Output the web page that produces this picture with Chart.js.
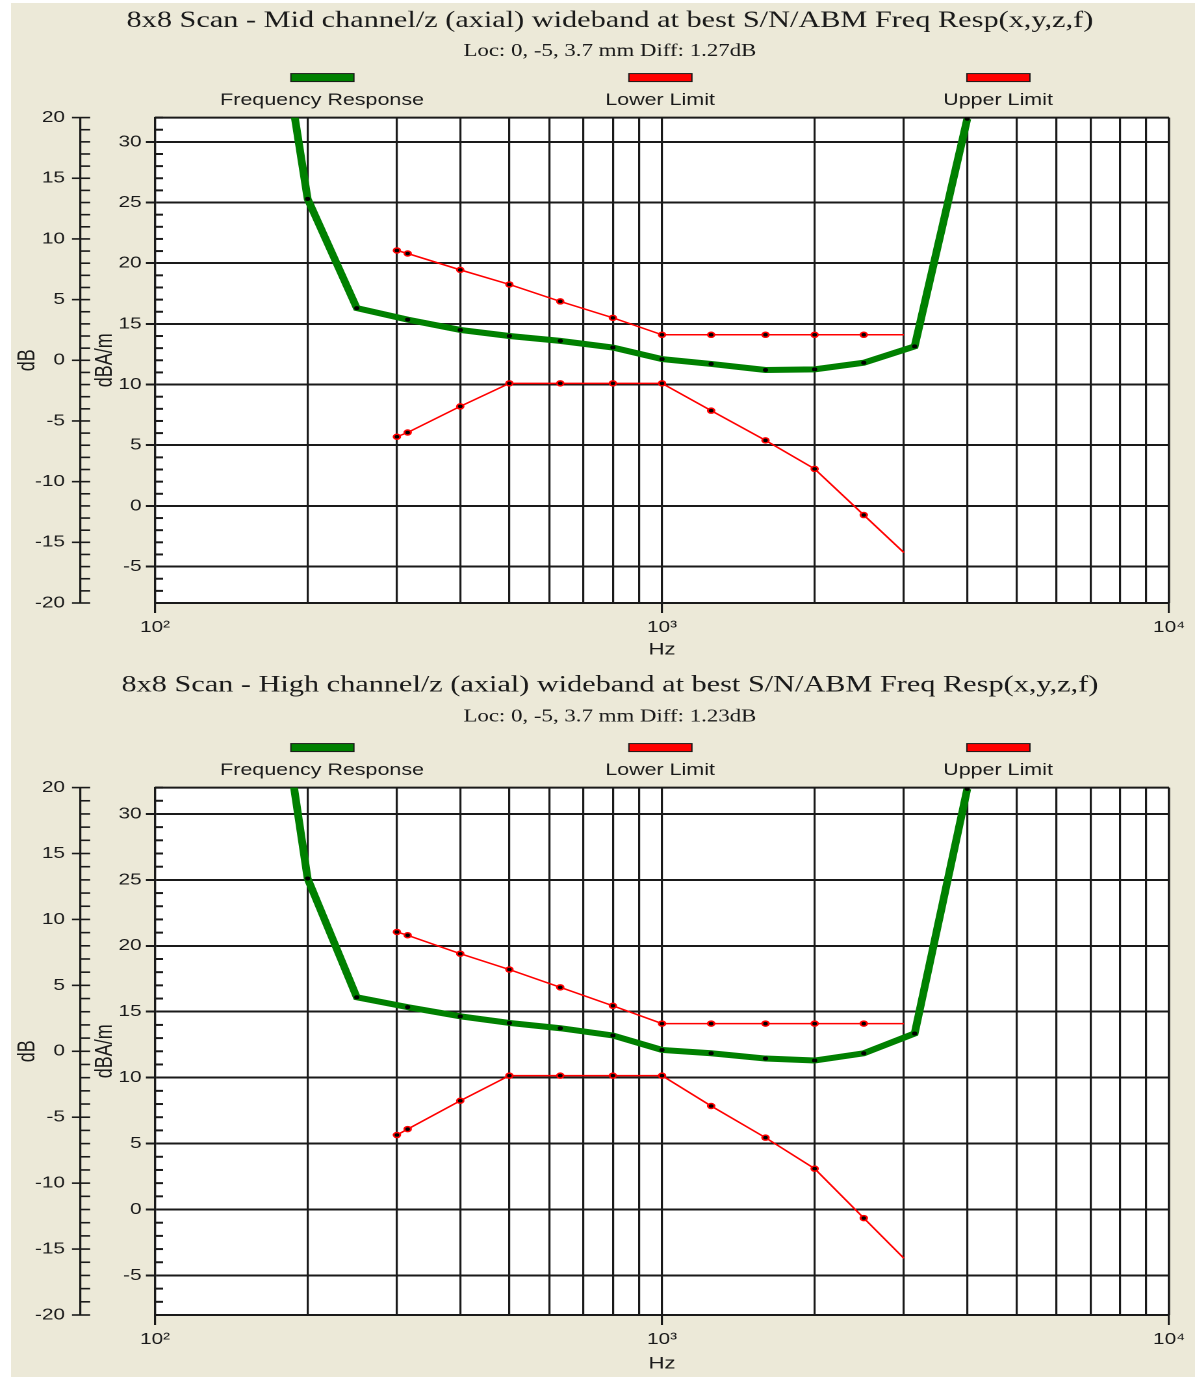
<!DOCTYPE html>
<html lang="en">
<head>
    <meta charset="UTF-8">
    <title>8x8 Scan - ABM Freq Resp</title>
    <script src="https://cdn.jsdelivr.net/npm/chart.js"></script>
    <style>
        body {
            margin: 0;
            padding: 0;
            background-color: #fff;
        }
        #panel {
            position: absolute;
            left: 11px;
            top: 3px;
            width: 1184px;
            height: 1374px;
            background-color: #ece9d8;
        }
        canvas {
            position: absolute;
            left: 0;
            transform-origin: 0 0;
        }
    </style>
</head>
<body>
<div id="panel">
    <canvas id="midChart" width="911" height="665"></canvas>
    <canvas id="highChart" width="911" height="709"></canvas>
</div>

<script>
    // frequencies (Hz)
    const respFreqs = [160, 200, 250, 315, 400, 500, 630, 800, 1000, 1250, 1600, 2000, 2500, 3150, 4000];
    const limitFreqs = [300, 315, 400, 500, 630, 800, 1000, 1250, 1600, 2000, 2500, 3000];

    // Mid channel (dBA/m)
    const midResponse = [51, 25.3, 16.3, 15.35, 14.5, 14.0, 13.6, 13.05, 12.1, 11.7, 11.2, 11.25, 11.8, 13.15, 31.9];
    const midLower = [5.7, 6.05, 8.2, 10.1, 10.1, 10.1, 10.1, 7.85, 5.4, 3.05, -0.75, -3.85];
    const midUpper = [21.05, 20.8, 19.45, 18.25, 16.85, 15.5, 14.1, 14.1, 14.1, 14.1, 14.1, 14.1];

    // High channel (dBA/m)
    const highResponse = [50, 25.1, 16.1, 15.35, 14.65, 14.15, 13.75, 13.2, 12.1, 11.85, 11.45, 11.3, 11.85, 13.35, 31.9];
    const highLower = [5.65, 6.1, 8.25, 10.15, 10.15, 10.15, 10.15, 7.85, 5.45, 3.1, -0.65, -3.7];
    const highUpper = [21.05, 20.8, 19.4, 18.2, 16.85, 15.45, 14.1, 14.1, 14.1, 14.1, 14.1, 14.1];

    // ticks
    const xTicks = [100, 200, 300, 400, 500, 600, 700, 800, 900, 1000,
                    2000, 3000, 4000, 5000, 6000, 7000, 8000, 9000, 10000];
    const xTickLabels = {100: '10²', 1000: '10³', 10000: '10⁴'};
    const dbaTicks = [-5, 0, 5, 10, 15, 20, 25, 30];
    const dbTicks = [-20, -15, -10, -5, 0, 5, 10, 15, 20];

    const SANS = "'Liberation Sans', Arial, sans-serif";
    const SERIF = "'Liberation Serif', 'Times New Roman', serif";
    const INK = '#1a1a1a';
    const STRETCH = 1184 / 911; // the original picture is stretched sideways

    // white plot area, inside minor ticks, outer dB axis ticks, frame
    const plotFrame = {
        id: 'plotFrame',
        beforeDraw(chart) {
            const {ctx, chartArea: a} = chart;
            ctx.save();
            ctx.fillStyle = '#fff';
            ctx.fillRect(a.left, a.top, a.width, a.height);
            ctx.restore();
        },
        beforeDatasetsDraw(chart) {
            const {ctx, chartArea: a, scales} = chart;
            ctx.save();
            ctx.strokeStyle = INK;
            const seg = (x1, y1, x2, y2) => {
                ctx.beginPath();
                ctx.moveTo(x1, y1);
                ctx.lineTo(x2, y2);
                ctx.stroke();
            };
            ctx.lineWidth = 2;
            const y = scales.y;
            for (let v = Math.ceil(y.min); v <= y.max; v++) {
                if (v % 5 === 0) continue;
                const py = y.getPixelForValue(v);
                seg(a.left, py, a.left + 6.2, py);
            }
            ctx.lineWidth = 1.6;
            const o = scales.y2;
            for (let v = o.min; v <= o.max; v++) {
                const py = o.getPixelForValue(v);
                seg(v % 5 === 0 ? o.right - 6.2 : o.right, py, o.right + 7.8, py);
            }
            ctx.lineWidth = 2;
            seg(a.left, a.top, a.right, a.top);
            ctx.lineWidth = 1.6;
            seg(a.right, a.top, a.right, a.bottom);
            ctx.restore();
        },
        afterDraw(chart) {
            // legend: coloured bar above each name
            const {ctx, chartArea: a} = chart;
            const sets = chart.data.datasets;
            ctx.save();
            sets.forEach((ds, i) => {
                const cx = a.left + a.width * (i + 0.5) / sets.length - 1.5;
                ctx.fillStyle = ds.borderColor;
                ctx.fillRect(cx - 24, a.top - 44, 48.5, 8);
                ctx.strokeStyle = INK;
                ctx.lineWidth = 1;
                ctx.strokeRect(cx - 24, a.top - 44, 48.5, 8);
                ctx.fillStyle = INK;
                ctx.font = '16.5px ' + SANS;
                ctx.textAlign = 'center';
                ctx.textBaseline = 'middle';
                ctx.fillText(ds.label, cx, a.top - 17);
            });
            ctx.restore();
        }
    };

    function points(freqs, values) {
        return freqs.map((f, i) => ({x: f, y: values[i]}));
    }

    function crearGrafica(id, cfg) {
        const canvas = document.getElementById(id);
        canvas.style.width = canvas.width + 'px';
        canvas.style.height = canvas.height + 'px';
        canvas.style.top = cfg.top + 'px';
        canvas.style.transform = 'scaleX(' + STRETCH + ')';

        const tickFont = {family: SANS, size: 16};
        const limitRadius = limitFreqs.map((f, i) => i === limitFreqs.length - 1 ? 0 : 2.5);

        return new Chart(canvas, {
            type: 'line',
            data: {
                datasets: [{
                    label: 'Frequency Response',
                    data: points(respFreqs, cfg.response),
                    borderColor: '#008000',
                    borderWidth: 6,
                    pointRadius: respFreqs.map((f, i) => i === 0 ? 0 : 2),
                    pointBackgroundColor: '#000',
                    pointBorderWidth: 0,
                    clip: 0
                }, {
                    label: 'Lower Limit',
                    data: points(limitFreqs, cfg.lower),
                    borderColor: '#ff0000',
                    borderWidth: 1.5,
                    pointRadius: limitRadius,
                    pointBackgroundColor: '#000',
                    pointBorderColor: '#ff0000',
                    pointBorderWidth: 1.5
                }, {
                    label: 'Upper Limit',
                    data: points(limitFreqs, cfg.upper),
                    borderColor: '#ff0000',
                    borderWidth: 1.5,
                    pointRadius: limitRadius,
                    pointBackgroundColor: '#000',
                    pointBorderColor: '#ff0000',
                    pointBorderWidth: 1.5
                }]
            },
            options: {
                responsive: false,
                devicePixelRatio: 2,
                animation: false,
                layout: {padding: {left: 10.6, right: 0, top: 0, bottom: 0}},
                elements: {line: {tension: 0}},
                plugins: {
                    legend: {display: false},
                    tooltip: {enabled: false},
                    title: {
                        display: true,
                        text: cfg.title,
                        color: INK,
                        font: {family: SERIF, size: 23.3, weight: 'normal'},
                        padding: {top: cfg.titleTop, bottom: 0}
                    },
                    subtitle: {
                        display: true,
                        text: cfg.subtitle,
                        color: INK,
                        font: {family: SERIF, size: 17.6},
                        padding: {top: cfg.subTop, bottom: cfg.subBottom}
                    }
                },
                scales: {
                    x: {
                        type: 'logarithmic',
                        min: 100,
                        max: 10000,
                        afterBuildTicks: s => { s.ticks = xTicks.map(v => ({value: v})); },
                        afterFit: s => { s.height = cfg.xAxisHeight; },
                        grid: {
                            color: INK,
                            lineWidth: 1.6,
                            tickLength: 10,
                            tickWidth: 1.6,
                            tickColor: c => xTickLabels[c.tick.value] ? INK : 'rgba(0,0,0,0)'
                        },
                        border: {color: INK, width: 2},
                        ticks: {
                            autoSkip: false,
                            maxRotation: 0,
                            padding: 5,
                            color: INK,
                            font: tickFont,
                            callback: v => xTickLabels[v] || ''
                        },
                        title: {
                            display: true,
                            text: 'Hz',
                            color: INK,
                            font: {family: SANS, size: 17},
                            padding: {top: 0, bottom: cfg.hzBottom}
                        }
                    },
                    y: {
                        position: 'left',
                        weight: 0,
                        min: -8,
                        max: 32,
                        afterBuildTicks: s => { s.ticks = dbaTicks.map(v => ({value: v})); },
                        afterFit: s => { s.width = 57.7; },
                        ticks: {padding: 3.3, color: INK, font: tickFont},
                        grid: {color: INK, lineWidth: 2, tickLength: 7, tickWidth: 2, tickColor: INK},
                        border: {color: INK, width: 1.6},
                        title: {
                            display: true,
                            text: 'dBA/m',
                            color: INK,
                            font: {family: SANS, size: 18},
                            padding: {top: 8.4, bottom: 0}
                        }
                    },
                    y2: {
                        position: 'left',
                        weight: 1,
                        min: -20,
                        max: 20,
                        afterBuildTicks: s => { s.ticks = dbTicks.map(v => ({value: v})); },
                        afterFit: s => { s.width = 42.5; },
                        ticks: {padding: 11.6, color: INK, font: tickFont},
                        grid: {drawOnChartArea: false, drawTicks: false},
                        border: {color: INK, width: 1.6},
                        title: {
                            display: true,
                            text: 'dB',
                            color: INK,
                            font: {family: SANS, size: 18},
                            padding: {top: -8.3, bottom: 0}
                        }
                    },
                    // empty strip on the right so the titles centre where the original has them
                    yr: {
                        position: 'right',
                        min: 0,
                        max: 1,
                        afterFit: s => { s.width = 20; },
                        ticks: {display: false},
                        grid: {display: false, drawTicks: false},
                        border: {display: false}
                    }
                }
            },
            plugins: [plotFrame]
        });
    }

    crearGrafica('midChart', {
        top: 0,
        title: '8x8 Scan - Mid channel/z (axial) wideband at best S/N/ABM Freq Resp(x,y,z,f)',
        subtitle: 'Loc: 0, -5, 3.7 mm Diff: 1.27dB',
        response: midResponse,
        lower: midLower,
        upper: midUpper,
        titleTop: 3.9,
        subTop: 6,
        subBottom: 55.6,
        xAxisHeight: 65,
        hzBottom: 7.8
    });

    crearGrafica('highChart', {
        top: 665,
        title: '8x8 Scan - High channel/z (axial) wideband at best S/N/ABM Freq Resp(x,y,z,f)',
        subtitle: 'Loc: 0, -5, 3.7 mm Diff: 1.23dB',
        response: highResponse,
        lower: highLower,
        upper: highUpper,
        titleTop: 3.2,
        subTop: 7,
        subBottom: 60.3,
        xAxisHeight: 62,
        hzBottom: 2.8
    });
</script>
</body>
</html>
